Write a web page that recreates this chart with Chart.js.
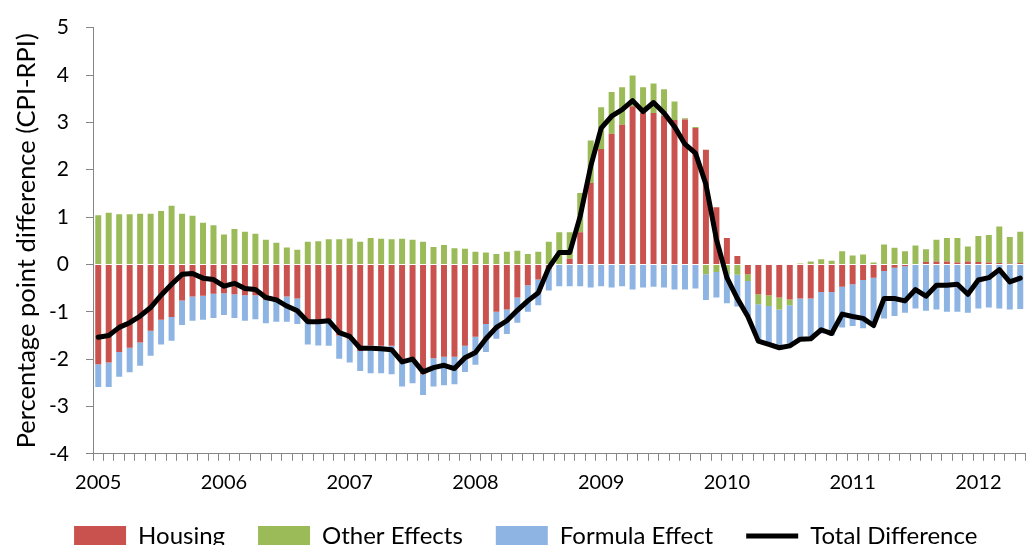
<!DOCTYPE html>
<html lang="en">

<head>
    <meta charset="UTF-8">
    <title>CPI-RPI difference</title>
    <style>
        html, body { margin: 0; padding: 0; overflow: hidden; background: #fff; }
        #wrap { width: 1027px; height: 558px; }
    </style>
</head>

<body>
    <div id="wrap">
        <canvas id="myChart"></canvas>
    </div>

    <script src="https://cdn.jsdelivr.net/npm/chart.js"></script>
    <script>
        // monthly, Jan 2005 - May 2012
        const years = ['2005', '2006', '2007', '2008', '2009', '2010', '2011', '2012'];
        const monthNames = ['Jan', 'Feb', 'Mar', 'Apr', 'May', 'Jun', 'Jul', 'Aug', 'Sep', 'Oct', 'Nov', 'Dec'];
        const monthCount = 89;

        const housing = [
            -2.11, -2.07, -1.85, -1.76, -1.65, -1.40, -1.17, -1.11, -0.76, -0.68, -0.66, -0.62,
            -0.61, -0.63, -0.65, -0.65, -0.75, -0.79, -0.68, -0.72, -1.19, -1.19, -1.16, -1.50,
            -1.58, -1.83, -1.71, -1.72, -1.72, -2.05, -1.98, -2.32, -1.98, -1.95, -1.95, -1.72,
            -1.53, -1.26, -1.00, -0.95, -0.70, -0.44, -0.32, -0.10, 0.00, 0.12, 0.68, 1.72,
            2.44, 2.76, 2.95, 3.34, 3.21, 3.20, 3.14, 3.05, 3.06, 2.88, 2.42, 1.21,
            0.56, 0.18, -0.21, -0.63, -0.65, -0.70, -0.74, -0.72, -0.72, -0.58, -0.58, -0.47,
            -0.42, -0.33, -0.28, -0.14, -0.07, -0.04, 0.00, 0.05, 0.06, 0.06, 0.04, 0.06,
            0.05, 0.04, 0.03, 0.02, 0.03
        ];
        const otherEffects = [
            1.04, 1.09, 1.06, 1.06, 1.07, 1.07, 1.13, 1.24, 1.07, 1.03, 0.88, 0.83,
            0.63, 0.75, 0.69, 0.65, 0.52, 0.46, 0.36, 0.31, 0.48, 0.49, 0.53, 0.53,
            0.55, 0.48, 0.56, 0.54, 0.53, 0.54, 0.52, 0.48, 0.37, 0.41, 0.34, 0.33,
            0.27, 0.25, 0.22, 0.27, 0.29, 0.22, 0.27, 0.48, 0.68, 0.56, 0.83, 0.90,
            0.88, 0.88, 0.79, 0.65, 0.53, 0.62, 0.56, 0.39, 0.03, 0.02, -0.21, -0.16,
            -0.21, -0.22, -0.14, -0.21, -0.23, -0.25, -0.12, 0.02, 0.06, 0.11, 0.08, 0.28,
            0.19, 0.21, 0.04, 0.42, 0.35, 0.28, 0.40, 0.27, 0.46, 0.50, 0.52, 0.32,
            0.55, 0.58, 0.77, 0.56, 0.66
        ];
        const formulaEffect = [
            -0.48, -0.52, -0.52, -0.52, -0.49, -0.53, -0.52, -0.50, -0.52, -0.51, -0.51, -0.51,
            -0.46, -0.50, -0.54, -0.51, -0.49, -0.42, -0.53, -0.54, -0.50, -0.52, -0.56, -0.49,
            -0.49, -0.42, -0.59, -0.58, -0.60, -0.53, -0.53, -0.44, -0.60, -0.60, -0.58, -0.55,
            -0.59, -0.59, -0.57, -0.52, -0.53, -0.56, -0.54, -0.45, -0.46, -0.46, -0.46, -0.49,
            -0.46, -0.49, -0.46, -0.53, -0.49, -0.47, -0.49, -0.53, -0.53, -0.51, -0.54, -0.54,
            -0.61, -0.67, -0.74, -0.78, -0.79, -0.77, -0.83, -0.86, -0.87, -0.88, -0.92, -0.86,
            -0.88, -1.02, -0.98, -1.00, -1.02, -0.98, -0.93, -0.98, -0.95, -1.00, -1.00, -1.02,
            -0.93, -0.91, -0.93, -0.95, -0.94
        ];
        const totalDifference = [
            -1.54, -1.50, -1.33, -1.23, -1.09, -0.91, -0.65, -0.42, -0.21, -0.19, -0.29, -0.32,
            -0.46, -0.40, -0.51, -0.53, -0.70, -0.75, -0.88, -0.98, -1.21, -1.21, -1.19, -1.44,
            -1.52, -1.77, -1.77, -1.78, -1.80, -2.06, -2.00, -2.27, -2.18, -2.13, -2.20, -1.97,
            -1.86, -1.57, -1.33, -1.19, -0.97, -0.77, -0.60, -0.07, 0.25, 0.25, 1.02, 2.07,
            2.88, 3.13, 3.27, 3.46, 3.23, 3.42, 3.20, 2.91, 2.54, 2.35, 1.69, 0.53,
            -0.28, -0.72, -1.10, -1.62, -1.69, -1.76, -1.72, -1.58, -1.57, -1.38, -1.46, -1.05,
            -1.10, -1.14, -1.29, -0.72, -0.72, -0.77, -0.53, -0.67, -0.44, -0.44, -0.42, -0.63,
            -0.33, -0.28, -0.11, -0.37, -0.29
        ];

        let v_labels = [];
        for (let i = 0; i < monthCount; i++) {
            v_labels.push(monthNames[i % 12] + ' ' + years[Math.floor(i / 12)]);
        }

        const fontName = 'Lato, "Open Sans", sans-serif';
        const axisGray = '#868686';

        const ctx = document.getElementById("myChart");

        let v_chart = new Chart(ctx, {
            data: {
                labels: v_labels,
                datasets: [{
                    type: 'bar',
                    label: 'Housing',
                    data: housing,
                    backgroundColor: '#C9524E',
                    borderWidth: 0,
                    order: 1
                }, {
                    type: 'bar',
                    label: 'Other Effects',
                    data: otherEffects,
                    backgroundColor: '#9BBB59',
                    borderWidth: 0,
                    order: 1
                }, {
                    type: 'bar',
                    label: 'Formula Effect',
                    data: formulaEffect,
                    backgroundColor: '#8DB4E2',
                    borderWidth: 0,
                    order: 1
                }, {
                    type: 'line',
                    label: 'Total Difference',
                    data: totalDifference,
                    borderColor: '#000',
                    backgroundColor: '#000',
                    borderWidth: 5,
                    borderJoinStyle: 'round',
                    borderCapStyle: 'round',
                    pointRadius: 0,
                    tension: 0,
                    order: 0 // line on top of the bars
                }]
            },
            options: {
                responsive: true,
                maintainAspectRatio: false,
                animation: false,
                layout: {
                    // left padding also pushes the legend row to the right
                    padding: { top: 27.7, left: 26, right: 1.5, bottom: 0 }
                },
                datasets: {
                    bar: {
                        categoryPercentage: 1,
                        barPercentage: 0.57
                    }
                },
                plugins: {
                    tooltip: { enabled: false },
                    legend: {
                        position: 'bottom',
                        labels: {
                            usePointStyle: true,
                            pointStyleWidth: 52,
                            boxHeight: 20,
                            padding: 33,
                            color: '#000',
                            font: { family: fontName, size: 24 },
                            sort: (a, b) => a.datasetIndex - b.datasetIndex,
                            generateLabels: function (chart) {
                                let items = Chart.defaults.plugins.legend.labels.generateLabels(chart);
                                items.forEach(it => {
                                    it.pointStyle = it.datasetIndex === 3 ? 'line' : 'rect';
                                });
                                return items;
                            }
                        }
                    }
                },
                scales: {
                    x: {
                        stacked: true,
                        offset: true,
                        afterFit: function (scale) { scale.height = 37.2; },
                        grid: {
                            offset: true,
                            drawOnChartArea: false,
                            drawTicks: true,
                            tickLength: 7,
                            color: axisGray
                        },
                        border: { color: axisGray, width: 1 },
                        ticks: {
                            autoSkip: false,
                            maxRotation: 0,
                            padding: 0,
                            color: '#000',
                            font: { family: fontName, size: 20, lineHeight: 2.14 },
                            callback: function (val, idx) {
                                return idx % 12 === 0 ? years[idx / 12] : '';
                            }
                        }
                    },
                    y: {
                        stacked: true,
                        min: -4,
                        max: 5,
                        afterFit: function (scale) { scale.width = 67; },
                        grid: {
                            drawOnChartArea: false,
                            drawTicks: true,
                            tickLength: 7,
                            color: axisGray
                        },
                        border: { color: axisGray, width: 1 },
                        ticks: {
                            stepSize: 1,
                            padding: 17,
                            color: '#000',
                            font: { family: fontName, size: 21, lineHeight: 1 }
                        },
                        title: {
                            display: true,
                            text: 'Percentage point difference (CPI-RPI)',
                            color: '#000',
                            padding: { top: -14.3, bottom: 0 },
                            font: { family: fontName, size: 25.5 }
                        }
                    }
                }
            }
        });
    </script>

</body>

</html>
